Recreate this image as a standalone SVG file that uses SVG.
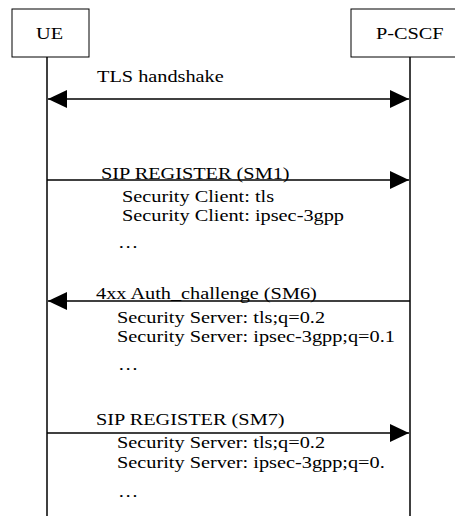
<svg xmlns="http://www.w3.org/2000/svg" width="455" height="516" viewBox="0 0 455 516">
  <style>
    .box { fill: #ffffff; stroke: #000000; stroke-width: 1; }
    .life { stroke: #000000; stroke-width: 1.5; fill: none; }
    .msg { stroke: #000000; stroke-width: 1.3; fill: none; }
    text { font-family: "Liberation Serif", "Times New Roman", serif; font-size: 16.5px; fill: #000000; }
  </style>
  <defs>
    <marker id="head" markerUnits="userSpaceOnUse" markerWidth="19" markerHeight="18" refX="19" refY="9" orient="auto-start-reverse">
      <path d="M0,0 L19,9 L0,18 Z" fill="#000000"/>
    </marker>
  </defs>
  <rect width="455" height="516" fill="#ffffff"/>

  <g id="ue">
    <rect class="box" x="12" y="9" width="77" height="48"/>
    <text transform="translate(36 39) scale(1.23 1)">UE</text>
    <line class="life" x1="47" y1="57" x2="47" y2="516"/>
  </g>

  <g id="pcscf">
    <rect class="box" x="351" y="9" width="120" height="48"/>
    <text transform="translate(376 39) scale(1.23 1)">P-CSCF</text>
    <line class="life" x1="410" y1="57" x2="410" y2="516"/>
  </g>

  <g id="connectors">
    <line class="msg" x1="48" y1="99" x2="409" y2="99" marker-start="url(#head)" marker-end="url(#head)"/>
    <line class="msg" x1="47" y1="180" x2="409" y2="180" marker-end="url(#head)"/>
    <line class="msg" x1="410" y1="301" x2="48" y2="301" marker-end="url(#head)"/>
    <line class="msg" x1="47" y1="433" x2="409" y2="433" marker-end="url(#head)"/>
  </g>

  <g id="labels">
    <text transform="translate(97 82) scale(1.23 1)">TLS handshake</text>

    <text transform="translate(101 179) scale(1.23 1)">SIP REGISTER (SM1)</text>
    <text transform="translate(122 202) scale(1.23 1)">Security Client: tls</text>
    <text transform="translate(122 221) scale(1.23 1)">Security Client: ipsec-3gpp</text>
    <text transform="translate(118 248) scale(1.23 1)">…</text>

    <text transform="translate(96 299) scale(1.23 1)">4xx Auth_challenge (SM6)</text>
    <text transform="translate(117 323) scale(1.23 1)">Security Server: tls;q=0.2</text>
    <text transform="translate(117 342) scale(1.23 1)">Security Server: ipsec-3gpp;q=0.1</text>
    <text transform="translate(118 370) scale(1.23 1)">…</text>

    <text transform="translate(96 425) scale(1.23 1)">SIP REGISTER (SM7)</text>
    <text transform="translate(117 448) scale(1.23 1)">Security Server: tls;q=0.2</text>
    <text transform="translate(117 468) scale(1.23 1)">Security Server: ipsec-3gpp;q=0.</text>
    <text transform="translate(118 497) scale(1.23 1)">…</text>
  </g>
</svg>
